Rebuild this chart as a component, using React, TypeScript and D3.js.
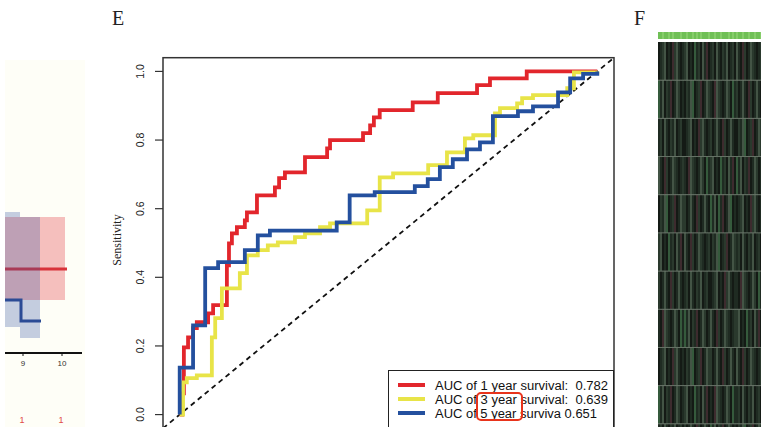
import React from "react";
import * as d3 from "d3";

// ROC curves, (1 - specificity, sensitivity), one point per step corner
const roc1Year: [number, number][] = [
  [0, 0], [0.006, 0.062], [0.01, 0.196], [0.02, 0.225], [0.032, 0.252], [0.041, 0.269],
  [0.068, 0.295], [0.08, 0.319], [0.113, 0.435], [0.118, 0.499], [0.125, 0.528],
  [0.137, 0.546], [0.156, 0.566], [0.161, 0.589], [0.185, 0.639], [0.228, 0.662],
  [0.238, 0.689], [0.252, 0.706], [0.3, 0.75], [0.353, 0.776], [0.36, 0.8], [0.439, 0.82],
  [0.456, 0.843], [0.465, 0.866], [0.479, 0.887], [0.558, 0.91], [0.618, 0.937],
  [0.712, 0.96], [0.743, 0.98], [0.831, 1.0], [1, 1],
];
const roc3Year: [number, number][] = [
  [0, 0], [0.008, 0.094], [0.017, 0.106], [0.041, 0.114], [0.077, 0.225], [0.085, 0.281],
  [0.101, 0.368], [0.144, 0.412], [0.161, 0.464], [0.187, 0.479], [0.211, 0.493],
  [0.235, 0.502], [0.276, 0.517], [0.3, 0.528], [0.336, 0.546], [0.36, 0.557],
  [0.449, 0.595], [0.479, 0.691], [0.511, 0.703], [0.595, 0.727], [0.64, 0.764],
  [0.683, 0.805], [0.703, 0.814], [0.755, 0.878], [0.767, 0.893], [0.808, 0.907],
  [0.82, 0.922], [0.846, 0.931], [0.928, 0.951], [0.944, 0.997], [1, 1],
];
const roc5Year: [number, number][] = [
  [0, 0], [0, 0.137], [0.032, 0.26], [0.061, 0.427], [0.092, 0.444], [0.156, 0.479],
  [0.187, 0.522], [0.216, 0.536], [0.376, 0.56], [0.407, 0.639], [0.467, 0.648],
  [0.563, 0.666], [0.594, 0.686], [0.623, 0.721], [0.654, 0.744], [0.688, 0.773],
  [0.719, 0.793], [0.75, 0.87], [0.81, 0.884], [0.846, 0.898], [0.906, 0.939],
  [0.935, 0.98], [0.966, 0.993], [1, 1],
];

const legendLabels = [
  "AUC of 1 year survival:  0.782",
  "AUC of 3 year survival:  0.639",
  "AUC of 5 year surviva 0.651",
];
const legendWidths = [173, 173, 162];
const seriesColors = ["#e2262c", "#e8e448", "#24509e"];
const yTicks = [0, 0.2, 0.4, 0.6, 0.8, 1.0];

// heatmap (panel F), one char per sample column: k black, d dark, n mid, l light, g green, r red
const heatRows = [
  "kdnlkdkrnldkdnlkdkgdnkldrkdnkldkndlkdnkldkrnkdlndkdn",
  "gdlkndrkdlnkdkndlgkdnrkdlndkrlndkdlnkgdnkdldkrnkdldk",
  "dnkldkndlkdnkkdnlkdkrnldkdnkdldkrnkdldkkndlgkdnrkdln",
  "ldkrnkdlndkdndkrlndkdlnkgdnlkdkgdnkldrkgdlkndrkdlnkd",
  "kndlgkdnrkdlnnkdldkrnkdldkgdlkgdrkdlgkdkdnlkdkrnldkd",
  "nlkdkgdnkldrkldkrnkdlndkdnkndlgkdnrkdlndnkldkndlkdnk",
  "nkdldkrnkdldkdnkldkndlkdnkkdnlkdkrnldkddkrlndkdlnkgd",
  "dkrlndkdlnkgdgdlkndrkdlnkdldkrnkdlndkdnnlkdkgdnkldrk",
  "kdnlkdkrnldkdkndlgkdnrkdlnnkdldkrnkdldkldkrnkdlndkdn",
  "gdlkndrkdlnkdnlkdkgdnkldrkdkrlndkdlnkgddnkldkndlkdnk",
  "dnkldkndlkdnknkdldkrnkdldkgdlkndrkdlnkdkndlgkdnrkdln",
];
const heatAnnot = "aabaababaaabaabaabababaaabaabaabaaabababaabaabaabaab";
const heatColors: Record<string, string> = {
  k: "#141a15", d: "#1f2b22", n: "#2a392d", l: "#435445", g: "#355a3c", r: "#3d2b2e",
};

// left panel (partial): x ticks and numbers at risk
const leftTicks = ["9", "10"];
const leftRisk = ["1", "1"];

const App: React.FC = () => {
  const width = 761;
  const height = 427;

  const x = d3.scaleLinear().domain([-0.04, 1.04]).range([163, 614]);
  const y = d3.scaleLinear().domain([-0.04, 1.04]).range([428.3, 57.7]);

  const line = d3
    .line<[number, number]>()
    .x((d) => x(d[0]))
    .y((d) => y(d[1]))
    .curve(d3.curveStepAfter);

  const series = [roc1Year, roc3Year, roc5Year];

  // heatmap scales
  const nCols = heatRows[0].length;
  const hx = d3.scaleBand<number>().domain(d3.range(nCols)).range([658, 762]);
  const hy = d3.scaleBand<number>().domain(d3.range(heatRows.length)).range([42, 462]);

  // left panel scale: time axis
  const lx = d3.scaleLinear().domain([9, 10]).range([23, 62]);

  return (
    <svg
      width={width}
      height={height}
      style={{ position: "absolute", left: 0, top: 0, display: "block", background: "#ffffff" }}
    >
      {/* left panel fragment */}
      <rect x={5} y={60} width={80} height={367} fill="#fefef7" />
      <rect x={5} y={217} width={60} height={83} fill="rgb(225,45,55)" fillOpacity={0.3} />
      <line x1={5} x2={67} y1={269} y2={269} stroke="#d8333a" strokeWidth={3} />
      <rect x={5} y={212} width={15} height={115} fill="rgb(45,80,160)" fillOpacity={0.28} />
      <rect x={20} y={217} width={20} height={121} fill="rgb(45,80,160)" fillOpacity={0.28} />
      <path d="M5,300H21V321H41" fill="none" stroke="#2b4b95" strokeWidth={3} />
      <line x1={5} x2={82} y1={353} y2={353} stroke="#111" strokeWidth={2} />
      {leftTicks.map((t, i) => (
        <g key={t}>
          <line x1={lx(9 + i)} x2={lx(9 + i)} y1={353} y2={356} stroke="#111" strokeWidth={1} />
          <text x={lx(9 + i)} y={366} textAnchor="middle" fontSize={8} fontFamily="Liberation Sans, Arial" fill="#333">
            {t}
          </text>
          <text x={lx(9 + i) - 1} y={423} textAnchor="middle" fontSize={9} fontFamily="Liberation Sans, Arial" fill="#e04848">
            {leftRisk[i]}
          </text>
        </g>
      ))}

      {/* panel labels */}
      <text x={112} y={25} fontSize={20} fontFamily="Liberation Serif, Times New Roman, serif" fill="#222">E</text>
      <text x={634} y={25} fontSize={20} fontFamily="Liberation Serif, Times New Roman, serif" fill="#222">F</text>

      {/* ROC plot frame and y axis */}
      <rect x={163} y={57.7} width={451} height={370.6} fill="#fff" stroke="#333" strokeWidth={1.5} />
      {yTicks.map((t) => (
        <g key={t}>
          <line x1={155} x2={163} y1={y(t)} y2={y(t)} stroke="#333" strokeWidth={1.2} />
          <text
            transform={`translate(144,${y(t)}) rotate(-90)`}
            textAnchor="middle"
            fontSize={10.5}
            fontFamily="Liberation Sans, Arial, sans-serif"
            fill="#222"
          >
            {t.toFixed(1)}
          </text>
        </g>
      ))}
      <text
        transform="translate(121,240) rotate(-90)"
        textAnchor="middle"
        fontSize={12}
        fontFamily="Liberation Serif, Times New Roman, serif"
        fill="#222"
      >
        Sensitivity
      </text>

      {/* chance line */}
      <line
        x1={x(-0.04)} y1={y(-0.04)} x2={x(1.04)} y2={y(1.04)}
        stroke="#111" strokeWidth={1.8} strokeDasharray="5,4"
      />

      {series.map((s, i) => (
        <path key={i} d={line(s) || ""} fill="none" stroke={seriesColors[i]} strokeWidth={3.8} />
      ))}

      {/* legend */}
      <rect x={388.5} y={370.5} width={225} height={70} fill="#fff" stroke="#222" strokeWidth={1} />
      {legendLabels.map((l, i) => (
        <g key={l}>
          <line x1={398} x2={425} y1={385 + i * 14} y2={385 + i * 14} stroke={seriesColors[i]} strokeWidth={4} />
          <text
            x={435}
            y={389.5 + i * 14}
            fontSize={12}
            fontFamily="Liberation Sans, Arial, sans-serif"
            fill="#111"
            textLength={legendWidths[i]}
            lengthAdjust="spacingAndGlyphs"
            style={{ whiteSpace: "pre" }}
          >
            {l}
          </text>
        </g>
      ))}
      <rect x={477} y={393} width={45} height={27} rx={4} fill="none" stroke="#e8341c" strokeWidth={2} />

      {/* heatmap fragment */}
      {heatAnnot.split("").map((c, j) => (
        <rect key={"a" + j} x={hx(j)} y={32} width={hx.bandwidth() + 0.3} height={7} fill={c === "b" ? "#86cd6a" : "#70c056"} />
      ))}
      {heatRows.map((row, i) =>
        row.split("").map((c, j) => (
          <rect
            key={i + "-" + j}
            x={hx(j)}
            y={hy(i)}
            width={hx.bandwidth() + 0.3}
            height={hy.bandwidth()}
            fill={heatColors[c] || heatColors.n}
          />
        ))
      )}
      {heatRows.map((_, i) =>
        i > 0 ? (
          <line key={"h" + i} x1={658} x2={761} y1={hy(i)} y2={hy(i)} stroke="#667266" strokeWidth={1} />
        ) : null
      )}
    </svg>
  );
};

export default App;
